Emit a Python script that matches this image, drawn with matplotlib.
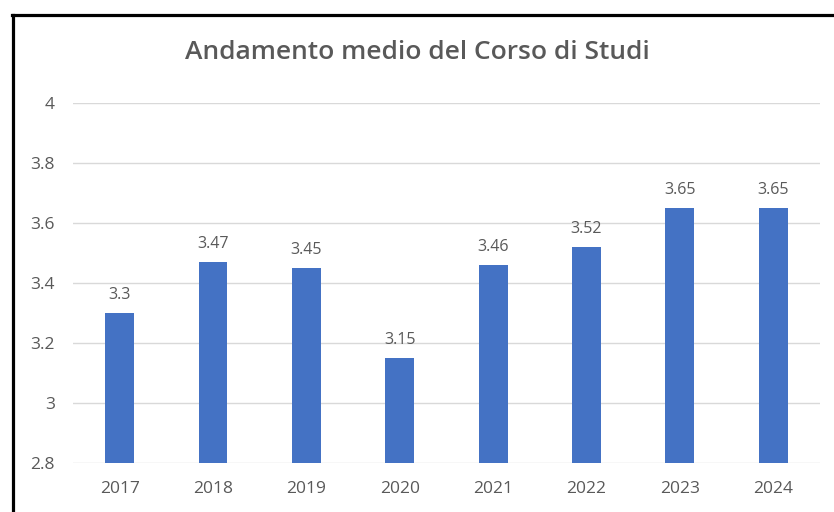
import matplotlib
matplotlib.use('Agg')
import matplotlib.pyplot as plt
from matplotlib.lines import Line2D

# average score per year
years = ['2017', '2018', '2019', '2020', '2021', '2022', '2023', '2024']
scores = [3.3, 3.47, 3.45, 3.15, 3.46, 3.52, 3.65, 3.65]
y_ticks = [2.8, 3.0, 3.2, 3.4, 3.6, 3.8, 4.0]
y_tick_labels = ['2.8', '3', '3.2', '3.4', '3.6', '3.8', '4']

plt.rcParams['font.family'] = ['Open Sans', 'DejaVu Sans']
grey = '#595959'

fig = plt.figure(figsize=(8.34, 5.12), dpi=100)
ax = fig.add_axes([0.0875, 0.0957, 0.8955, 0.7031])

x = range(len(years))
ax.bar(x, scores, width=0.31, color='#4472C4', zorder=3)

# value labels above the bars
for i, v in zip(x, scores):
    ax.annotate(f'{v:g}', (i, v), xytext=(0, 7), textcoords='offset points',
                ha='center', va='bottom', fontsize=11.5, color=grey)

ax.set_xlim(-0.5, len(years) - 0.5)
ax.set_ylim(2.8, 4.0)
ax.set_yticks(y_ticks)
ax.set_yticklabels(y_tick_labels)
ax.set_xticks(list(x))
ax.set_xticklabels(years)
ax.tick_params(axis='both', length=0, labelsize=12.5, labelcolor=grey)
ax.tick_params(axis='y', pad=13)
ax.tick_params(axis='x', pad=13)
ax.grid(axis='y', color='#d9d9d9', linewidth=1, zorder=0)
for s in ax.spines.values():
    s.set_visible(False)

fig.text(0.5, 0.898, 'Andamento medio del Corso di Studi', ha='center', va='center',
         fontsize=19, color=grey, fontweight='semibold')

# black frame around the chart (left and top only visible)
fig.add_artist(Line2D([12.5 / 834, 12.5 / 834], [0, 1 - 15 / 512], color='black', linewidth=2.3))
fig.add_artist(Line2D([11.5 / 834, 1], [1 - 15 / 512, 1 - 15 / 512], color='black', linewidth=2.3))

plt.savefig('out.png', dpi=100)
plt.close()
